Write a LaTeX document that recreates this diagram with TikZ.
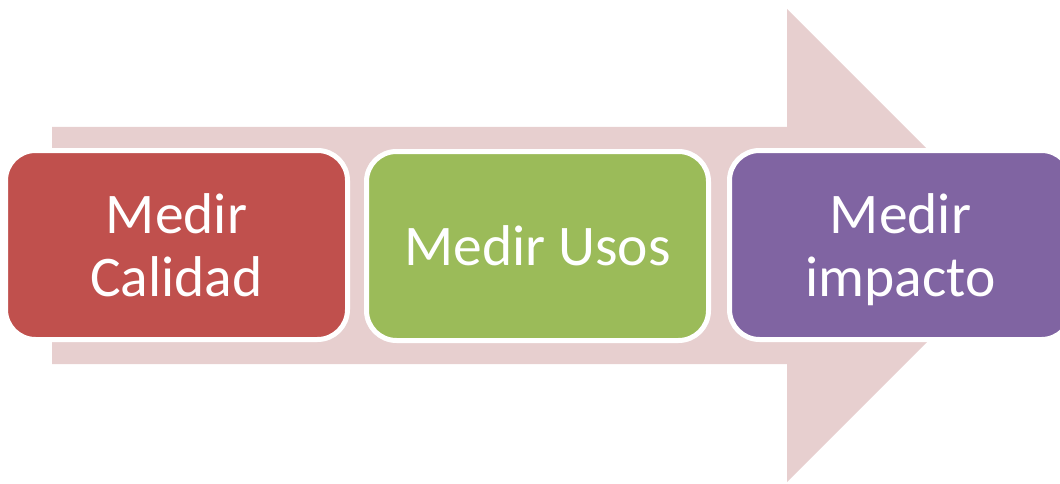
\documentclass[tikz,border=0pt]{standalone}
\usepackage{fontspec}
\setmainfont{Carlito}
\definecolor{arrowpink}{RGB}{231,207,207}
\definecolor{boxred}{RGB}{192,80,77}
\definecolor{boxgreen}{RGB}{155,187,89}
\definecolor{boxpurple}{RGB}{128,100,162}
\tikzset{
  stagebox/.style={draw=white, line width=5pt, rounded corners=30pt,
    minimum width=342pt, minimum height=189pt, inner sep=0pt,
    text=white, align=center, text depth=0pt,
    font=\fontsize{57.5}{63}\selectfont}
}
\begin{document}
\begin{tikzpicture}[x=1pt,y=1pt]
\useasboundingbox (0,0) rectangle (1060,483);
\clip (0,0) rectangle (1060,483);
\fill[arrowpink] (52,356) -- (787,356) -- (787,474) -- (1023.5,237.5)
  -- (787,1) -- (787,119) -- (52,119) -- cycle;
\node[stagebox, fill=boxred] (calidad) at (176.5,238) {Medir\\Calidad};
\node[stagebox, fill=boxgreen] (usos) at (537.5,237) {Medir Usos};
\node[stagebox, fill=boxpurple] (impacto) at (900.5,238) {Medir\\impacto};
\end{tikzpicture}
\end{document}
